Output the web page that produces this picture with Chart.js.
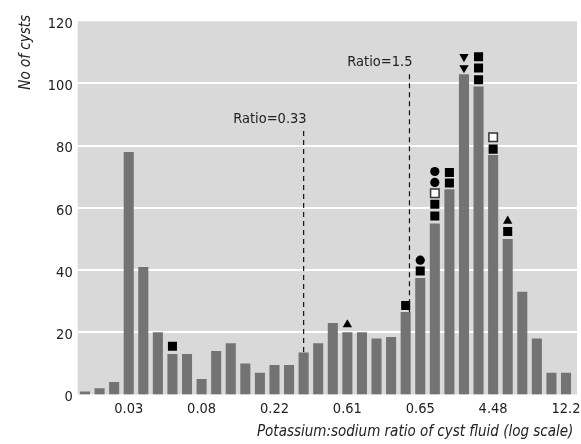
<!DOCTYPE html>
<html><head><meta charset="utf-8">
<script src="https://cdn.jsdelivr.net/npm/chart.js@4.4.1/dist/chart.umd.min.js"></script>
<style>html,body{margin:0;padding:0;background:#fff}#wrap{width:581px;height:444px}</style>
</head><body><div id="wrap"><canvas id="c"></canvas></div>
<script>
const FONT = "'DejaVu Sans Condensed','Liberation Sans Narrow',sans-serif";

// histogram counts, one per log-ratio bin
const binCount = [1,2,4,78,41,20,13,13,5,14,16.5,10,7,9.5,9.5,13.5,16.5,23,20,20,18,18.5,26.5,37.5,55,66,103,99,77,50,33,18,7,7];
const tickBins = [3,8,13,18,23,28,33];
const tickText = ["0.03","0.08","0.22","0.61","0.65","4.48","12.2"];

// symbols stacked above bars (bin index, value)
const squareBin = [6,22,23,24,24,25,25,27,27,27,28,29];
const squareVal = [15.5,28.6,39.7,57.4,61.2,68,71.4,101.2,105,108.6,78.9,52.4];
const openSqBin = [24,28];
const openSqVal = [64.7,82.7];
const circleBin = [23,24,24];
const circleVal = [43.2,68.2,71.7];
const triUpBin = [18,29];
const triUpVal = [22.5,55.8];
const triDownBin = [26,26];
const triDownVal = [105,108.6];

// reference ratio lines
const refNames = ["Ratio=0.33","Ratio=1.5"];
const refBin = [15.0,22.26];
const refTop = [84.7,103];
const refBottom = [13.5,26.5];

const yTitle = "No of cysts";
const xTitle = "Potassium:sodium ratio of cyst fluid (log scale)";

const labels = binCount.map((_,i)=>{ const k=tickBins.indexOf(i); return k<0?"":tickText[k]; });
const pts = (xs,ys)=>xs.map((x,i)=>({x, y:ys[i]}));
const EXTRA_R = 3.7;

const panel = {
  id:"panel",
  beforeDatasetsDraw(chart){
    const {ctx, chartArea:a, scales} = chart;
    ctx.save();
    ctx.fillStyle = "#d9d9d9";
    ctx.fillRect(a.left, a.top, a.right+EXTRA_R-a.left, a.bottom-a.top);
    ctx.strokeStyle = "#ffffff"; ctx.lineWidth = 2;
    scales.y.ticks.forEach(t=>{
      if(t.value<=0 || t.value>=120) return;
      const y = Math.round(scales.y.getPixelForValue(t.value));
      ctx.beginPath(); ctx.moveTo(a.left,y); ctx.lineTo(a.right+EXTRA_R,y); ctx.stroke();
    });
    ctx.restore();
  },
  afterDatasetsDraw(chart){
    const {ctx, scales} = chart;
    ctx.save();
    ctx.font = "14.5px "+FONT; ctx.fillStyle = "#222";
    ctx.textAlign = "right"; ctx.textBaseline = "middle";
    refNames.forEach((n,i)=>{
      const x = scales.xm.getPixelForValue(refBin[i]);
      const y = scales.y.getPixelForValue(refTop[i]);
      ctx.fillText(n, x+3, y-12);
    });
    // y axis title, top-aligned
    ctx.translate(26, 15);
    ctx.rotate(-Math.PI/2);
    ctx.font = "italic 15px "+FONT;
    ctx.fillText(yTitle, 0, 0);
    ctx.restore();
  }
};

const mark = (data, style, r, extra={}) => ({
  type:"scatter", xAxisID:"xm", data, pointStyle:style, pointRadius:r, pointHoverRadius:r,
  backgroundColor:"#000", borderColor:"#000", borderWidth:0, order:1, ...extra
});

new Chart(document.getElementById("c"), {
  type:"bar",
  data:{
    labels,
    datasets:[
      {type:"bar", data:binCount, backgroundColor:"#737373", grouped:false,
       barPercentage:0.69, categoryPercentage:1, order:3},
      mark(pts(squareBin,squareVal),"rect",6.4),
      mark(pts(openSqBin,openSqVal),"rect",6.0,{backgroundColor:"#fff",borderColor:"#333",borderWidth:1.5}),
      mark(pts(circleBin,circleVal),"circle",4.6),
      mark(pts(triUpBin,triUpVal),"triangle",5.4),
      mark(pts(triDownBin,triDownVal),"triangle",5.4,{rotation:180}),
      ...refNames.map((n,i)=>({
        type:"scatter", xAxisID:"xm", showLine:true, pointRadius:0, order:0,
        data:[{x:refBin[i],y:refTop[i]},{x:refBin[i],y:refBottom[i]}],
        borderColor:"#111", borderWidth:1.2, borderDash:[5,4]
      }))
    ]
  },
  options:{
    responsive:true, maintainAspectRatio:false, animation:false,
    layout:{padding:{left:0,right:7.7,top:21.3,bottom:0}},
    plugins:{legend:{display:false}, tooltip:{enabled:false}},
    scales:{
      x:{
        type:"category", offset:true,
        grid:{display:false, drawTicks:false}, border:{display:false},
        ticks:{autoSkip:false, maxRotation:0, padding:6, color:"#222", font:{family:FONT,size:14.5}},
        title:{display:true, text:xTitle, align:"end",
               color:"#222", font:{family:FONT,size:15,style:"italic"}, padding:{top:0,bottom:3}},
        afterFit(s){ s.height = 49.5; s.paddingLeft = 0; s.paddingRight = 0; }
      },
      xm:{type:"linear", offset:false, min:-0.5, max:33.5, display:false},
      y:{
        min:0, max:120,
        grid:{display:false, drawTicks:false}, border:{display:false},
        ticks:{stepSize:20, padding:5, labelOffset:3, color:"#222", font:{family:FONT,size:14.5}},
        afterFit(s){ s.width = 77.7; s.paddingTop = 0; s.paddingBottom = 0; }
      }
    }
  },
  plugins:[panel]
});
</script>
</body></html>
